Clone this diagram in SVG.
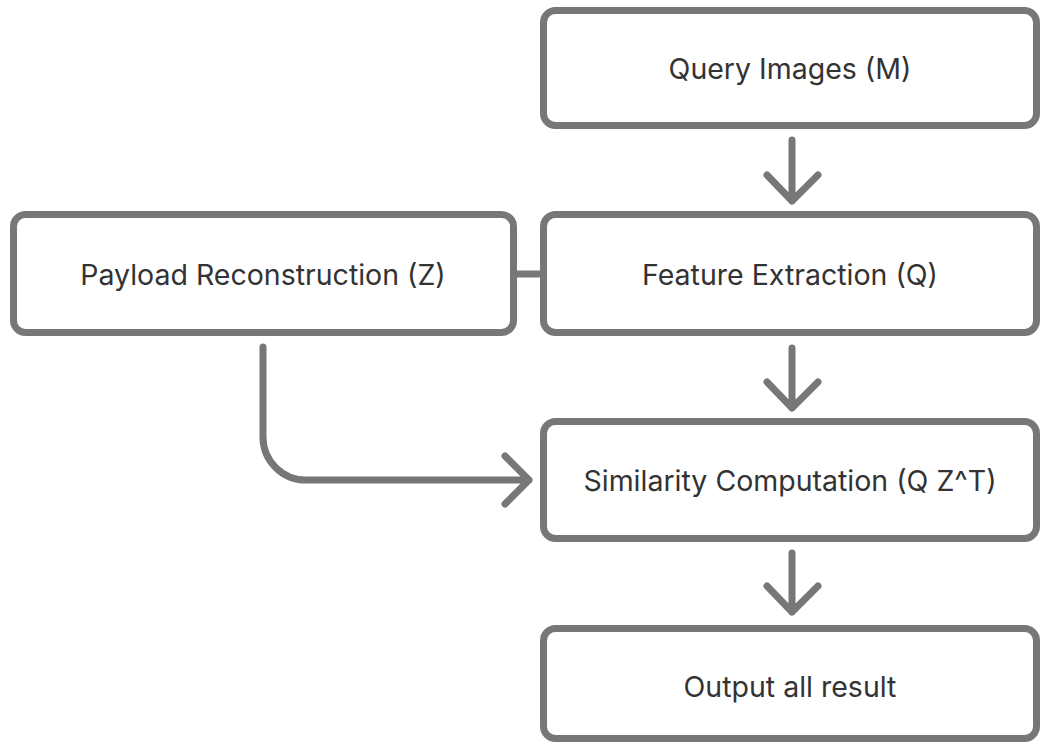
<svg xmlns="http://www.w3.org/2000/svg" width="1041" height="746" viewBox="0 0 1041 746">
  <style>
    .box { fill: #ffffff; stroke: #777777; stroke-width: 7; }
    .label { font-family: Inter, "Noto Sans", "Liberation Sans", sans-serif; font-size: 28.5px; fill: #333333; text-anchor: middle; }
    .wire { fill: none; stroke: #777777; stroke-width: 7; stroke-linecap: round; stroke-linejoin: round; }
  </style>
  <rect width="1041" height="746" fill="#ffffff"/>

  <g id="connectors">
    <!-- Query -> Feature -->
    <path class="wire" d="M792 140 V201 M767 175 L792 201 L818 175"/>
    <!-- Payload — Feature link -->
    <path class="wire" d="M517 274 H540"/>
    <!-- Feature -> Similarity -->
    <path class="wire" d="M792 348 V408 M767 382 L792 408 L818 382"/>
    <!-- Payload -> Similarity -->
    <path class="wire" d="M263 347 V437 A43 43 0 0 0 306 480 H529 M505 456 L529 480 L505 504"/>
    <!-- Similarity -> Output -->
    <path class="wire" d="M792 553 V612 M767 586 L792 612 L818 586"/>
  </g>

  <g id="query-images">
    <rect class="box" x="543.5" y="10.5" width="493" height="115" rx="12"/>
    <text class="label" x="790" y="79">Query Images (M)</text>
  </g>
  <g id="payload-reconstruction">
    <rect class="box" x="13.5" y="214.5" width="500" height="118" rx="12"/>
    <text class="label" x="263" y="285">Payload Reconstruction (Z)</text>
  </g>
  <g id="feature-extraction">
    <rect class="box" x="543.5" y="214.5" width="493" height="118" rx="12"/>
    <text class="label" x="790" y="285">Feature Extraction (Q)</text>
  </g>
  <g id="similarity-computation">
    <rect class="box" x="543.5" y="421.5" width="493" height="117" rx="12"/>
    <text class="label" x="790" y="491">Similarity Computation (Q Z^T)</text>
  </g>
  <g id="output-result">
    <rect class="box" x="543.5" y="628.5" width="493" height="110" rx="12"/>
    <text class="label" x="790" y="697">Output all result</text>
  </g>
</svg>
